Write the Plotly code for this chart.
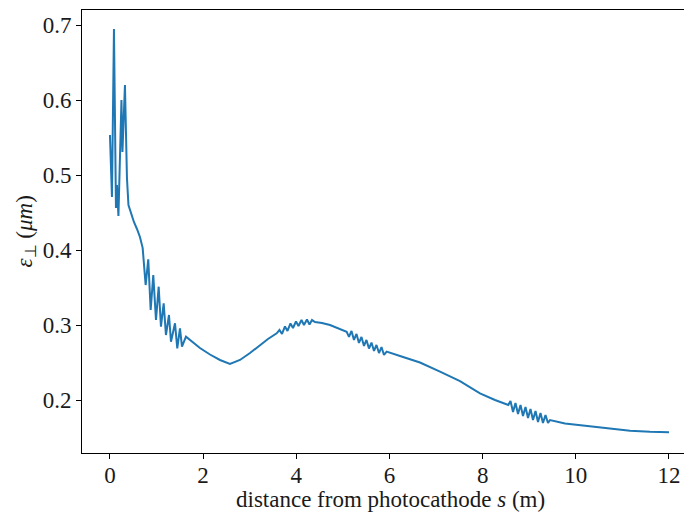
import plotly.graph_objects as go

# distance from photocathode s (m)
s_vals = [
    0.000, 0.043, 0.086, 0.129, 0.150, 0.182, 0.247, 0.268, 0.322, 0.343,
    0.365, 0.397, 0.451, 0.515, 0.580, 0.644, 0.702,
    0.766, 0.822, 0.874, 0.930, 0.988, 1.046, 1.095, 1.153, 1.202, 1.267,
    1.310, 1.396, 1.445, 1.503, 1.546, 1.632,
    1.782, 1.932, 2.147, 2.362, 2.576, 2.791, 3.006, 3.220, 3.392, 3.579,
    3.639, 3.693, 3.757, 3.811, 3.875, 3.929, 3.993, 4.047, 4.111, 4.165,
    4.229, 4.283, 4.337, 4.401,
    4.551, 4.723, 4.895, 5.081,
    5.131, 5.185, 5.238, 5.292, 5.345, 5.399, 5.453, 5.506, 5.560, 5.614,
    5.668, 5.721, 5.775, 5.829, 5.882, 5.940,
    6.226, 6.655, 7.085, 7.514, 7.943, 8.265, 8.551,
    8.598, 8.652, 8.705, 8.759, 8.813, 8.866, 8.920, 8.974, 9.027, 9.081,
    9.135, 9.188, 9.242, 9.295, 9.349, 9.403, 9.446,
    9.768, 10.090, 10.455, 10.799, 11.164, 11.593, 12.000,
]

# transverse emittance (um)
eps_vals = [
    0.5536, 0.4709, 0.6951, 0.4562, 0.4869, 0.4455, 0.6003, 0.5309, 0.6203, 0.5309,
    0.4963, 0.4602, 0.4482, 0.4375, 0.4282, 0.4175, 0.4030,
    0.3534, 0.3877, 0.3201, 0.3668, 0.3068, 0.3512, 0.2978, 0.3290, 0.2867, 0.3134,
    0.2778, 0.3024, 0.2690, 0.2957, 0.2711, 0.2845,
    0.2774, 0.2694, 0.2607, 0.2534, 0.2481, 0.2534, 0.2627, 0.2734, 0.2814, 0.2890,
    0.2934, 0.2881, 0.2981, 0.2921, 0.3021, 0.2961, 0.3047, 0.2987, 0.3067, 0.3001,
    0.3074, 0.3007, 0.3067, 0.3041,
    0.3028, 0.3001, 0.2961, 0.2911,
    0.2843, 0.2921, 0.2801, 0.2881, 0.2761, 0.2841, 0.2721, 0.2801, 0.2687, 0.2767,
    0.2654, 0.2734, 0.2627, 0.2707, 0.2601, 0.2645,
    0.2587, 0.2500, 0.2378, 0.2253, 0.2089, 0.2000, 0.1933,
    0.1987, 0.1840, 0.1960, 0.1813, 0.1933, 0.1787, 0.1907, 0.1760, 0.1880, 0.1733,
    0.1853, 0.1707, 0.1827, 0.1693, 0.1800, 0.1693, 0.1733,
    0.1686, 0.1662, 0.1633, 0.1609, 0.1590, 0.1576, 0.1569,
]

x_ticks = [0, 2, 4, 6, 8, 10, 12]
y_ticks = [0.2, 0.3, 0.4, 0.5, 0.6, 0.7]

FONT = "Liberation Serif"
TXT = "#1a1a1a"
FS = 23

fig = go.Figure()
fig.add_trace(go.Scatter(
    x=s_vals, y=eps_vals, mode="lines",
    line=dict(color="#1f77b4", width=2),
    showlegend=False, hoverinfo="skip",
))

# page body has an 8px default margin; size the figure so it fits the window
fig.update_layout(
    template=None,
    width=684, height=506,
    margin=dict(l=74, r=0, t=2, b=61, autoexpand=False),
    paper_bgcolor="white", plot_bgcolor="white",
    font=dict(family=FONT, size=FS, color=TXT),
    xaxis=dict(
        range=[-0.6, 12.494], tickvals=x_ticks, ticktext=[str(v) for v in x_ticks],
        showline=True, linecolor="black", linewidth=1, mirror=True,
        ticks="outside", ticklen=5, tickwidth=1, tickcolor="black",
        showgrid=False, zeroline=False, automargin=False,
        ticklabelstandoff=-4,
        tickfont=dict(family=FONT, size=FS, color=TXT),
    ),
    yaxis=dict(
        range=[0.12928, 0.72042], tickvals=y_ticks, ticktext=[f"{v:.1f}" for v in y_ticks],
        showline=True, linecolor="black", linewidth=1, mirror=False,
        ticks="outside", ticklen=5, tickwidth=1, tickcolor="black",
        showgrid=False, zeroline=False, automargin=False,
        tickfont=dict(family=FONT, size=FS, color=TXT),
    ),
    annotations=[
        dict(text="distance from photocathode <i>s</i> (m)", xref="paper", yref="paper",
             x=0.505, y=0, yshift=-46, xanchor="center", yanchor="middle",
             showarrow=False, font=dict(family=FONT, size=FS, color=TXT)),
        dict(text="<i>ε</i><sub>⊥</sub> (<i>μm</i>)", xref="paper", yref="paper",
             x=0, xshift=-57, y=0.5, xanchor="center", yanchor="middle", textangle=-90,
             showarrow=False, font=dict(family=FONT, size=FS, color=TXT)),
    ],
)

fig.write_html("out.html")
